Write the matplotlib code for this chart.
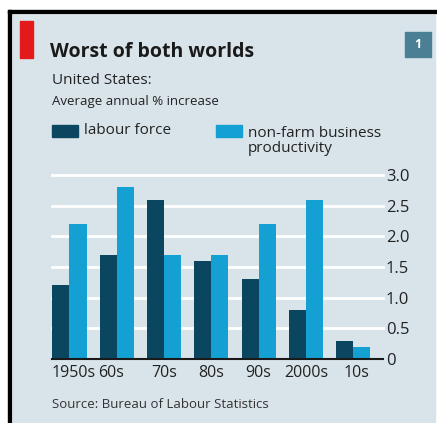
import matplotlib.pyplot as plt
from matplotlib.patches import Rectangle
from matplotlib.transforms import ScaledTranslation
import numpy as np

# Datos
decades = ["1950s", "60s", "70s", "80s", "90s", "2000s", "10s"]
labour_force = [1.2, 1.7, 2.6, 1.6, 1.3, 0.8, 0.3]
productivity = [2.2, 2.8, 1.7, 1.7, 2.2, 2.6, 0.2]
yticks = [0, 0.5, 1.0, 1.5, 2.0, 2.5, 3.0]
ytick_labels = ["0", "0.5", "1.0", "1.5", "2.0", "2.5", "3.0"]

W, H = 437, 423
dark = "#0b4660"
light = "#14a0d2"
panel = "#d9e4ea"
plt.rcParams['font.family'] = ['Open Sans', 'DejaVu Sans']

fig = plt.figure(figsize=(W / 100, H / 100), dpi=100)
fig.patch.set_facecolor("white")

def px(x, y, w, h):
    # convierte pixeles (arriba-izquierda) a coordenadas de figura
    return (x / W, 1 - (y + h) / H), w / W, h / H

# marco negro y panel
for (x, y, w, h, c) in [(8, 10, 429, 3, "black"), (8, 10, 3, 413, "black"),
                        (13, 15, 422, 408, panel), (20, 21, 13, 37, "#e3191b"),
                        (405, 32, 26, 25, "#4a7f94")]:
    xy, ww, hh = px(x, y, w, h)
    fig.patches.append(Rectangle(xy, ww, hh, transform=fig.transFigure, color=c, zorder=-5))

fig.text(418 / W, 1 - 45 / H, "1", color="white", fontsize=9, fontweight="bold", ha="center", va="center")
fig.text(50 / W, 1 - 52 / H, "Worst of both worlds", fontsize=14, fontweight="bold", color="#1a1a1a", va="center")
fig.text(52 / W, 1 - 80 / H, "United States:", fontsize=11, color="#222222", va="center")
fig.text(52 / W, 1 - 101 / H, "Average annual % increase", fontsize=9.5, color="#222222", va="center")

# leyenda
for (x, c) in [(52, dark), (216, light)]:
    xy, ww, hh = px(x, 125, 26, 12)
    fig.patches.append(Rectangle(xy, ww, hh, transform=fig.transFigure, color=c, zorder=-4))
fig.text(84 / W, 1 - 131 / H, "labour force", fontsize=11, color="#222222", va="center")
fig.text(248 / W, 1 - 141 / H, "non-farm business\nproductivity", fontsize=11, color="#222222",
         va="center", linespacing=1.0)

# grafica de barras
ax = fig.add_axes([52 / W, 1 - 359 / H, (383 - 52) / W, (359 - 175) / H])
ax.set_zorder(5)
ax.set_facecolor("none")
x = np.arange(len(decades))
bw = 0.36
ax.bar(x - bw / 2, labour_force, bw, color=dark, zorder=2)
ax.bar(x + bw / 2, productivity, bw, color=light, zorder=2)
ax.set_xlim(-0.37, 6.63)
ax.set_ylim(0, 3.0)
for t in yticks[1:]:
    ax.axhline(t, color="white", lw=2, zorder=1, clip_on=False)
ax.axhline(0, color="#1a1a1a", lw=1.5, zorder=3, clip_on=False)
for s in ax.spines.values():
    s.set_visible(False)
ax.yaxis.tick_right()
ax.set_yticks(yticks)
ax.set_yticklabels(ytick_labels, fontsize=12, color="#222222")
ax.tick_params(axis="y", length=0, pad=2)
ax.set_xticks(x)
ax.set_xticklabels(decades, fontsize=11.5, color="#222222")
ax.tick_params(axis="x", length=0, pad=4)
# pequeños desplazamientos de etiquetas como en el original
shifts = {0: 4, 1: -6, 6: 3}
labels = ax.get_xticklabels()
for i, dx in shifts.items():
    lab = labels[i]
    lab.set_transform(lab.get_transform() + ScaledTranslation(dx / 100, 0, fig.dpi_scale_trans))

fig.text(52 / W, 1 - 404 / H, "Source: Bureau of Labour Statistics", fontsize=9.5, color="#333333", va="center")

fig.savefig("out.png", dpi=100)
